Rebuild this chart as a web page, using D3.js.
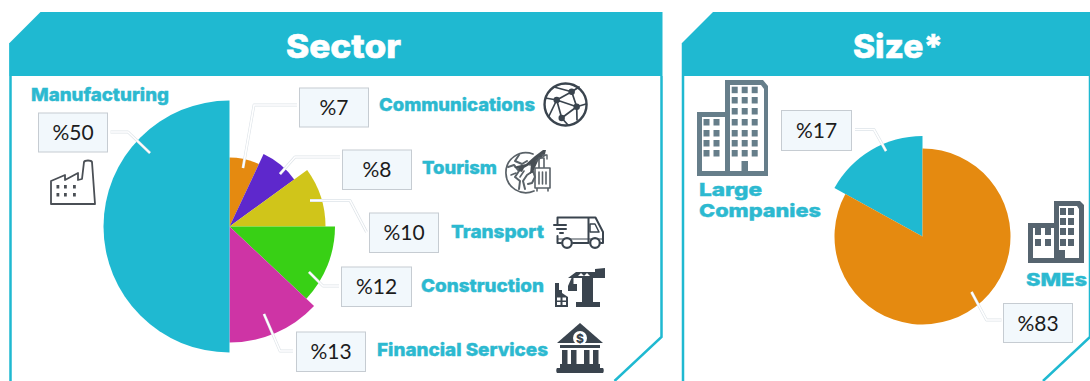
<!DOCTYPE html>
<html>
<head>
<meta charset="utf-8">
<script src="https://cdn.jsdelivr.net/npm/d3@7"></script>
<style>
html, body { margin: 0; padding: 0; background: #fff; overflow: hidden; }
text { font-family: Inter, "Open Sans", sans-serif; }
.lab { font-weight: 800; fill: #2cb9d0; stroke: #2cb9d0; stroke-width: 0.4; font-size: 18px; }
.title { font-weight: 800; fill: #fff; stroke: #fff; stroke-width: 0.6; font-size: 33px; }
.pct { font-family: Lato, "Open Sans", sans-serif; font-size: 21px; fill: #1c1c1c; text-anchor: middle; }
</style>
</head>
<body>
<div id="chart"></div>
<script>
var sectors = ["Communications", "Tourism", "Transport", "Construction", "Financial Services", "Manufacturing"];
var sectorValues = [7, 8, 10, 12, 13, 50];
var sectorColors = ["#e58a10", "#5e28cc", "#d0c51a", "#38d015", "#ce34a5", "#1fb9d1"];
var sizes = ["Large Companies", "SMEs"];
var sizeValues = [17, 83];
var sizeColors = ["#1fb9d1", "#e58a10"];

var teal = "#1fb9d1", dark = "#3a444e";

var svg = d3.select("#chart").append("svg").attr("width", 1090).attr("height", 381);

// panel frames
function panel(x0, x1, title, tx, tw) {
  var g = svg.append("g");
  g.append("path")
    .attr("d", `M${x0},43V381M${x1},76V337L${x1 - 47},381`)
    .attr("fill", "none").attr("stroke", teal).attr("stroke-width", 2.5);
  g.append("path")
    .attr("d", `M${x0 - 1},43L${x0 + 30},12H${x1 + 1}V76H${x0 - 1}Z`)
    .attr("fill", teal);
  g.append("text").attr("class", "title").attr("x", tx).attr("y", 58)
    .attr("textLength", tw).attr("lengthAdjust", "spacingAndGlyphs").text(title);
}
panel(10.5, 661.5, "Sector", 286, 115);
panel(683, 1090, "Size*", 853, 90);

// radius depends on the slice, the source pies are exploded by value
var sectorR = d3.scaleLinear().domain([7, 8, 10, 12, 13, 50]).range([69, 80, 96, 105.5, 116, 126]);
var sizeR = d3.scaleOrdinal().domain(sizeValues).range([100.5, 88]);

function drawPie(cx, cy, vals, colors, r) {
  var arcs = d3.pie().sort(null)(vals);
  svg.append("g").attr("transform", `translate(${cx},${cy})`)
    .selectAll("path").data(arcs).enter().append("path")
    .attr("d", function (d) { return d3.arc().innerRadius(0).outerRadius(r(d.data))(d); })
    .attr("fill", function (d, i) { return colors[i]; });
}
drawPie(229.5, 226.5, sectorValues, sectorColors, sectorR);
// size pie starts from the last slice so the small one ends at 12 o'clock
(function () {
  var arcs = d3.pie().sort(null).startAngle(-2 * Math.PI * sizeValues[0] / 100).endAngle(2 * Math.PI * (1 - sizeValues[0] / 100))(sizeValues);
  svg.append("g").attr("transform", "translate(922.5,236.5)")
    .selectAll("path").data(arcs).enter().append("path")
    .attr("d", function (d) { return d3.arc().innerRadius(0).outerRadius(sizeR(d.data))(d); })
    .attr("fill", function (d, i) { return sizeColors[i]; });
})();

// leader lines
var leaders = [
  [[110.5, 132], [128, 132], [150, 153]],
  [[297, 105], [254, 105], [243, 168]],
  [[340, 157], [295, 157], [280, 174]],
  [[310, 200.5], [350, 200.5], [366.5, 232]],
  [[309, 272], [323, 286], [339, 286]],
  [[264, 314], [280, 351], [293, 351]],
  [[855, 129.5], [874, 129.5], [886, 151]],
  [[971.5, 292], [986.5, 320], [1001.5, 320]]
];
var line = d3.line();
leaders.forEach(function (p) {
  svg.append("path").attr("d", line(p)).attr("fill", "none").attr("stroke", "#dde3e8").attr("stroke-width", 2.8).attr("stroke-linejoin", "round");
  svg.append("path").attr("d", line(p)).attr("fill", "none").attr("stroke", "#fff").attr("stroke-width", 1.6);
});

// value boxes
var boxes = [
  [38.5, 113, 69, 39, sectorValues[5]],
  [299.5, 88, 69, 39, sectorValues[0]],
  [342.5, 150, 69, 39.5, sectorValues[1]],
  [369.5, 213, 69, 39.5, sectorValues[2]],
  [341.5, 267, 70, 39.5, sectorValues[3]],
  [296.5, 332, 69, 39.5, sectorValues[4]],
  [781.5, 110.5, 70, 40, sizeValues[0]],
  [1003.5, 303.5, 69, 39, sizeValues[1]]
];
boxes.forEach(function (b) {
  svg.append("rect").attr("x", b[0]).attr("y", b[1]).attr("width", b[2]).attr("height", b[3])
    .attr("fill", "#f2f8fc").attr("stroke", "#c6ccd2");
  svg.append("text").attr("class", "pct").attr("x", b[0] + b[2] / 2).attr("y", b[1] + b[3] / 2 + 7.5).text("%" + b[4]);
});

// category labels
var largeWords = sizes[0].split(" ");
var labels = [
  [sectors[5], 31, 101, 138],
  [sectors[0], 379, 111, 156],
  [sectors[1], 422, 174, 75],
  [sectors[2], 451, 238, 93],
  [sectors[3], 421, 292, 123],
  [sectors[4], 377, 356, 171],
  [largeWords[0], 699, 196, 63],
  [largeWords[1], 699, 217, 122],
  [sizes[1], 1026, 286, 61]
];
labels.forEach(function (l) {
  svg.append("text").attr("class", "lab").attr("x", l[1]).attr("y", l[2])
    .attr("textLength", l[3]).attr("lengthAdjust", "spacingAndGlyphs").text(l[0]);
});

// icons
function icon(x, y) { return svg.append("g").attr("transform", `translate(${x},${y})`); }
function stroke(g, d, c, w) { return g.append("path").attr("d", d).attr("fill", "none").attr("stroke", c || dark).attr("stroke-width", w || 2).attr("stroke-linejoin", "round").attr("stroke-linecap", "round"); }
function fill(g, d, c) { return g.append("path").attr("d", d).attr("fill", c || dark); }
function windows(g, xs, ys, w, h, c) {
  xs.forEach(function (x) { ys.forEach(function (y) {
    g.append("rect").attr("x", x).attr("y", y).attr("width", w).attr("height", h).attr("fill", c);
  }); });
}

// factory
var f = icon(50, 160);
stroke(f, "M1,44V21L15,15V20L28,13V20L32,19L34,2C35,0 41,0 42,2L45,44Z", "#4a4f55", 1.8);
windows(f, [6.5, 14, 23], [25, 33], 2.8, 3.5, "#4a4f55");

// globe
var g1 = icon(544, 83);
stroke(g1, "M21.5,0.5A21,21 0 1,0 21.6,42.5A21,21 0 1,0 21.5,0.5Z", dark, 2.4);
stroke(g1, "M12.7,17L27.7,8.7L32.7,23.7L17.7,35L12.7,17M27.7,8.7L35,4M32.7,23.7L42,21M17.7,35L24,42M12.7,17L1.5,15M12.7,17L5,33M27.7,8.7L10,4M32.7,23.7L33,37M12.7,17L32.7,23.7", dark, 1.7);
[[12.7, 17], [27.7, 8.7], [32.7, 23.7], [17.7, 35]].forEach(function (p) {
  g1.append("circle").attr("cx", p[0]).attr("cy", p[1]).attr("r", 3.2).attr("fill", dark);
});

// tourism: globe, plane, suitcase
var t = icon(506, 147);
var tc = "#5a6268";
stroke(t, "M27,7A20,20 0 1,0 28,44", tc, 1.7);
stroke(t, "M2,20L8,18L13,24L9,30L14,34L13,42M13,8L9,14L16,17L21,14M19,42L17,34L21,28L27,24L29,30L26,36L22,37", tc, 2);
stroke(t, "M5,28L10,26M24,18L29,17M18,24L14,30", tc, 1.6);
fill(t, "M8,21L11,19L20,17L29,9L37,3L40,3L39,7L32,14L27,25L24,27L25,17L18,21L16,25L13,24L12,21Z", "#484f55");
stroke(t, "M30,14L40,8M36,8H41V12", tc, 1.4);
stroke(t, "M29,21H44V41H29ZM33,21V11H38V21M33,25V37M36.5,25V37M40,25V37M31,41V44M42,41V44", tc, 1.6);

// truck
var tr = icon(554, 216);
stroke(tr, "M3.5,9V1.5H34.5V27M34.5,1.5H41.5L49,16V27H47M34.5,27H19M7,27H3.5V20M0,9H12M3,13H12M6,17H9", dark, 2);
stroke(tr, "M36,8H41L45,16H36Z", dark, 1.5);
stroke(tr, "M3.5,23H49", dark, 1.2);
tr.append("circle").attr("cx", 13).attr("cy", 27).attr("r", 4.8).attr("fill", "#fff").attr("stroke", dark).attr("stroke-width", 2.2);
tr.append("circle").attr("cx", 41).attr("cy", 27).attr("r", 4.8).attr("fill", "#fff").attr("stroke", dark).attr("stroke-width", 2.2);

// crane
var c = icon(555, 268);
fill(c, "M13,10L21,4H40V1L50,0V10Z");
fill(c, "M27,10H38V34H45V39H21V34H27Z");
fill(c, "M16.5,10H18.5V16H22V23H13V18Z");
[[23, 8, 26, 5], [29, 8, 32, 5]].forEach(function (h) {
  fill(c, `M${h[0]},${h[1]}L${h[2]},${h[3]}L${h[2] + 3},${h[1]}Z`, "#fff");
});
fill(c, "M0,15H4V22H7V25L13,29V39H0Z");
windows(c, [2, 7.5], [29.5, 34], 3.5, 3, "#fff");

// bank
var b = icon(556, 323);
fill(b, "M24,0L47,20H1Z");
b.append("circle").attr("cx", 24).attr("cy", 15).attr("r", 7).attr("fill", "#fff");
b.append("text").attr("x", 24).attr("y", 19.5).attr("text-anchor", "middle").attr("font-size", 12).attr("font-weight", 800).attr("fill", dark).text("$");
fill(b, "M4,22H44V25H4Z");
[6, 15, 28, 37].forEach(function (x) { b.append("rect").attr("x", x).attr("y", 27).attr("width", 5.5).attr("height", 15).attr("fill", dark); });
fill(b, "M4,41H44V45H47C48,46 48,49 47,50H1C0,49 0,46 1,45H4Z");

// large building
var lb = icon(697, 80);
var grey = "#667e8a";
fill(lb, "M0,32H28V0H66L71,6V96H0Z", grey);
fill(lb, "M5,37H28V91H5ZM33,5H64L67,9V91H51V81H44.5V91H33Z", "#fff");
windows(lb, [34.7, 44.7, 54.7], [6.7, 17, 28, 39, 50, 60, 70], 6, 6.5, grey);
windows(lb, [6.5, 16.5], [39, 50, 60, 70], 6, 6.5, grey);

// small building
var sb = icon(1028, 201);
fill(sb, "M0,22H26V0H52L56,4V62H0Z", "#56646f");
fill(sb, "M5,27H26V57H5ZM31,5H49L51,8V57H37V49H31Z", "#fff");
windows(sb, [32, 40], [7, 17, 27, 38], 6, 7, "#56646f");
windows(sb, [7, 17], [27, 38], 6, 7, "#56646f");
</script>
</body>
</html>
